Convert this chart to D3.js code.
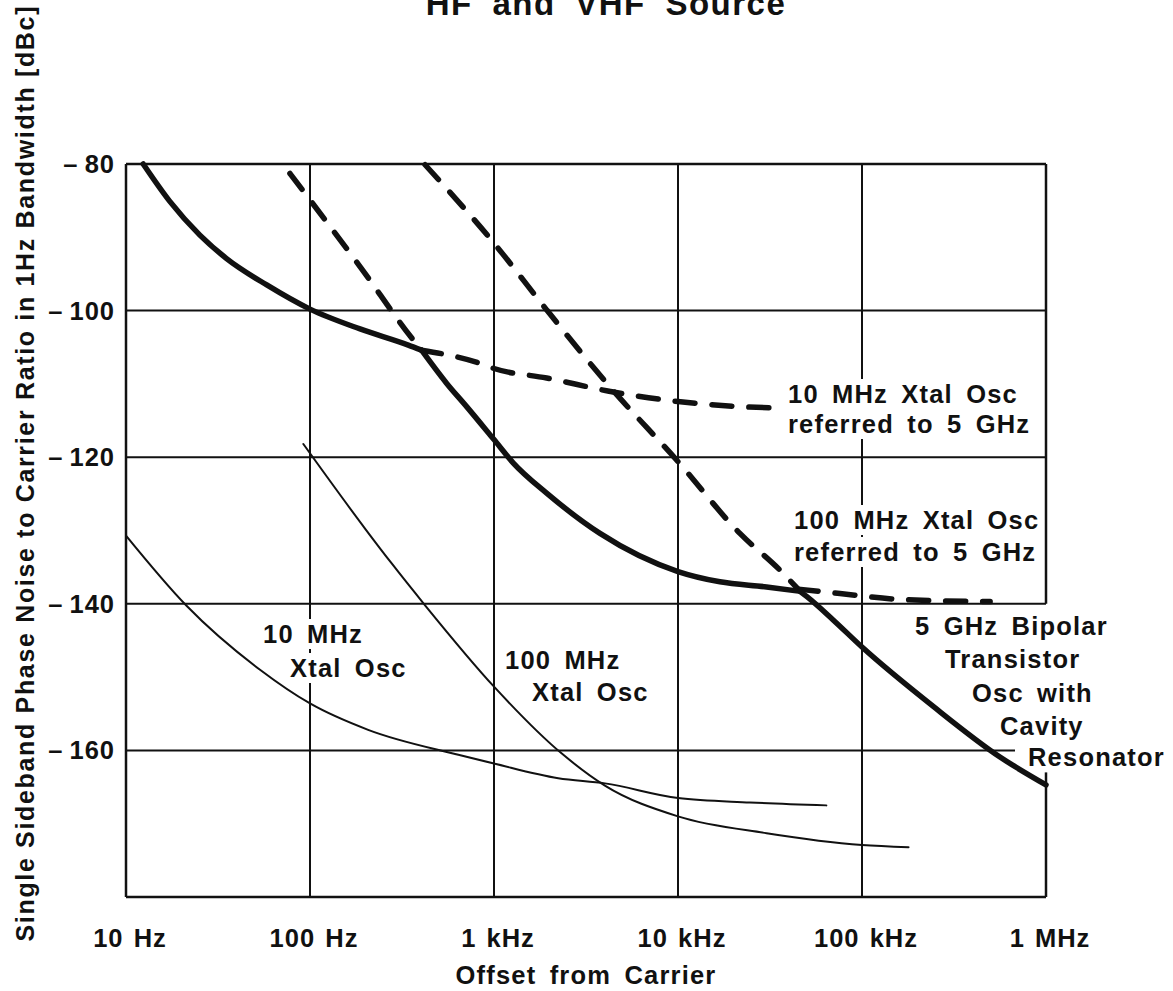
<!DOCTYPE html>
<html>
<head>
<meta charset="utf-8">
<script src="https://cdn.jsdelivr.net/npm/d3@7"></script>
<style>
  html, body { margin: 0; padding: 0; background: #fff; }
  svg { display: block; }
  text { font-family: "Liberation Sans", Arial, Helvetica, sans-serif; font-weight: bold; fill: #111; }
</style>
</head>
<body>
<svg id="chart" width="1173" height="991"></svg>
<script>
// ---------------- DATA ----------------
const xTickValues = [10, 100, 1000, 10000, 100000, 1000000];
const xTickLabels = ["10 Hz", "100 Hz", "1 kHz", "10 kHz", "100 kHz", "1 MHz"];
const yTickValues = [-80, -100, -120, -140, -160];
const yGridValues = [-100, -120, -140, -160];

// [offset frequency Hz, dBc/Hz]
const bipolar5G = [
  [12.4, -80], [17.3, -85.1], [25.2, -89.7], [35.2, -92.9], [58.2, -96.5],
  [100, -99.8], [187, -102.5], [342, -104.7], [404, -105.4],
  [552, -109.9], [710, -113.1], [1000, -117.6], [1274, -120.8], [1932, -124.9],
  [3767, -130.4], [10000, -135.6], [16900, -137.0], [30300, -137.7], [46000, -138.3],
  [50000, -139.0], [69700, -142.2], [100000, -145.9], [244000, -154.0],
  [562000, -160.9], [1000000, -164.7]
];
const bipolar5GCorners = [404, 46000];

const xtal10Referred = [
  [77.8, -81.3], [100, -84.9], [187, -94.0], [364, -104.0], [404, -105.4],
  [839, -107.2], [1000, -107.9], [1932, -109.2], [4446, -111.1],
  [10000, -112.4], [21700, -113.1], [37300, -113.3]
];
const xtal10ReferredCorners = [404];

const xtal100Referred = [
  [422, -80.1], [1000, -90.8], [1932, -99.9], [4266, -110.4], [10000, -120.6],
  [21700, -130.4], [35800, -135.4], [45000, -138.0],
  [75900, -138.6], [161000, -139.4], [497000, -139.7]
];
const xtal100ReferredCorners = [45000];

const xtal10 = [
  [10, -130.7], [21.2, -140.2], [53.5, -149.0], [100, -153.6], [207, -157.2],
  [640, -160.6], [1000, -161.8], [2234, -163.8], [4007, -164.5],
  [10000, -166.5], [24600, -167.1], [64000, -167.5]
];

const xtal100 = [
  [92, -118.2], [200, -129.8], [278, -134.5], [422, -140.2],
  [1000, -151.3], [2328, -160.4], [4007, -164.8], [10000, -169.0],
  [30300, -171.3], [100000, -172.9], [179000, -173.2]
];

const titleText = "HF and VHF Source";
const xAxisTitle = "Offset from Carrier";
const yAxisTitle = "Single Sideband Phase Noise to Carrier Ratio in 1Hz Bandwidth [dBc]";

const labelXtal10Referred = ["10 MHz Xtal Osc", "referred to 5 GHz"];
const labelXtal100Referred = ["100 MHz Xtal Osc", "referred to 5 GHz"];
const labelXtal10 = ["10 MHz", "Xtal Osc"];
const labelXtal100 = ["100 MHz", "Xtal Osc"];
const labelBipolar = ["5 GHz Bipolar", "Transistor", "Osc with", "Cavity", "Resonator"];

// ---------------- LAYOUT ----------------
const svg = d3.select("#chart");
const plot = { left: 126, right: 1046, top: 164, bottom: 897 };

const x = d3.scaleLog().domain([10, 1e6]).range([plot.left, plot.right]);
const y = d3.scaleLinear().domain([-180, -80]).range([plot.bottom, plot.top]);

const textStyle = "letter-spacing:1.2px; word-spacing:5px;";

// grid
const grid = svg.append("g").attr("stroke", "#111").attr("stroke-width", 2).attr("fill", "none");
xTickValues.slice(1, -1).forEach(v => {
  grid.append("line").attr("x1", x(v)).attr("x2", x(v)).attr("y1", y(-80)).attr("y2", y(-180));
});
yGridValues.forEach(v => {
  const xEnd = v === -160 ? x(1e6) - 31 : x(1e6);
  grid.append("line").attr("x1", x(10)).attr("x2", xEnd).attr("y1", y(v)).attr("y2", y(v));
});
// frame (right side interrupted by the resonator label)
const frame = svg.append("g").attr("stroke", "#111").attr("stroke-width", 2.5).attr("fill", "none");
frame.append("line").attr("x1", x(10)).attr("x2", x(1e6)).attr("y1", y(-80)).attr("y2", y(-80));
frame.append("line").attr("x1", x(10)).attr("x2", x(1e6)).attr("y1", y(-180)).attr("y2", y(-180));
frame.append("line").attr("x1", x(10)).attr("x2", x(10)).attr("y1", y(-80)).attr("y2", y(-180));
frame.append("line").attr("x1", x(1e6)).attr("x2", x(1e6)).attr("y1", y(-80)).attr("y2", y(-140));
frame.append("line").attr("x1", x(1e6)).attr("x2", x(1e6)).attr("y1", y(-163)).attr("y2", y(-180));

// labels with knock-out backgrounds
const bgLayer = svg.append("g");
const curveLayer = svg.append("g");
const textLayer = svg.append("g");

function multiLabel(lines, xs, ys, anchor, knock) {
  lines.forEach((t, i) => {
    const el = textLayer.append("text")
      .attr("x", xs[i]).attr("y", ys[i])
      .attr("text-anchor", anchor || "start")
      .attr("font-size", 25.5)
      .attr("style", textStyle)
      .text(t);
    if (knock) {
      const b = el.node().getBBox();
      bgLayer.append("rect")
        .attr("x", b.x - 4).attr("y", b.y - 1)
        .attr("width", b.width + 8).attr("height", b.height + 2)
        .attr("fill", "#fff");
    }
  });
}

multiLabel(labelXtal10Referred, [788, 788], [403, 433], "start", true);
multiLabel(labelXtal100Referred, [794, 794], [529, 561], "start", true);
multiLabel(labelXtal10, [263, 290], [643, 677], "start", true);
multiLabel(labelXtal100, [505, 532], [669, 701], "start", true);
multiLabel(labelBipolar, [915, 945, 972, 1000, 1028], [635, 668, 702, 735, 766], "start", false);

// curves
function segments(data, corners) {
  const segs = [];
  let cur = [];
  data.forEach(d => {
    cur.push(d);
    if (corners && corners.includes(d[0])) { segs.push(cur); cur = [d]; }
  });
  if (cur.length > 1) segs.push(cur);
  return segs;
}
const line = d3.line().x(d => x(d[0])).y(d => y(d[1])).curve(d3.curveMonotoneX);

function drawSeries(data, corners, width, dash) {
  segments(data, corners).forEach(seg => {
    curveLayer.append("path")
      .attr("d", line(seg))
      .attr("fill", "none")
      .attr("stroke", "#111")
      .attr("stroke-width", width)
      .attr("stroke-linecap", "round")
      .attr("stroke-linejoin", "round")
      .attr("stroke-dasharray", dash || null);
  });
}
drawSeries(xtal10, null, 2, null);
drawSeries(xtal100, null, 2, null);
drawSeries(xtal10Referred, xtal10ReferredCorners, 5.5, "20 17");
drawSeries(xtal100Referred, xtal100ReferredCorners, 5.5, "20 17");
drawSeries(bipolar5G, bipolar5GCorners, 5.5, null);

// axis tick labels
xTickValues.forEach((v, i) => {
  textLayer.append("text")
    .attr("x", x(v) + 4).attr("y", 947)
    .attr("text-anchor", "middle")
    .attr("font-size", 25.5)
    .attr("style", "letter-spacing:1px; word-spacing:2px;")
    .text(xTickLabels[i]);
});
yTickValues.forEach(v => {
  textLayer.append("text")
    .attr("x", 115).attr("y", y(v) + 9)
    .attr("text-anchor", "end")
    .attr("font-size", 25.5)
    .attr("style", "letter-spacing:1px;")
    .text("\u2013\u2009" + Math.abs(v));
});

// axis titles
textLayer.append("text")
  .attr("x", 586).attr("y", 984)
  .attr("text-anchor", "middle")
  .attr("font-size", 25.5)
  .attr("style", textStyle)
  .text(xAxisTitle);

textLayer.append("text")
  .attr("transform", "translate(34,474) rotate(-90)")
  .attr("text-anchor", "middle")
  .attr("font-size", 25)
  .attr("textLength", 935)
  .attr("lengthAdjust", "spacing")
  .text(yAxisTitle);

// title (partially cut at the top of the page, as in the source)
textLayer.append("text")
  .attr("x", 606).attr("y", 15)
  .attr("text-anchor", "middle")
  .attr("font-size", 33)
  .attr("style", "letter-spacing:1.5px; word-spacing:9px;")
  .text(titleText);
</script>
</body>
</html>
